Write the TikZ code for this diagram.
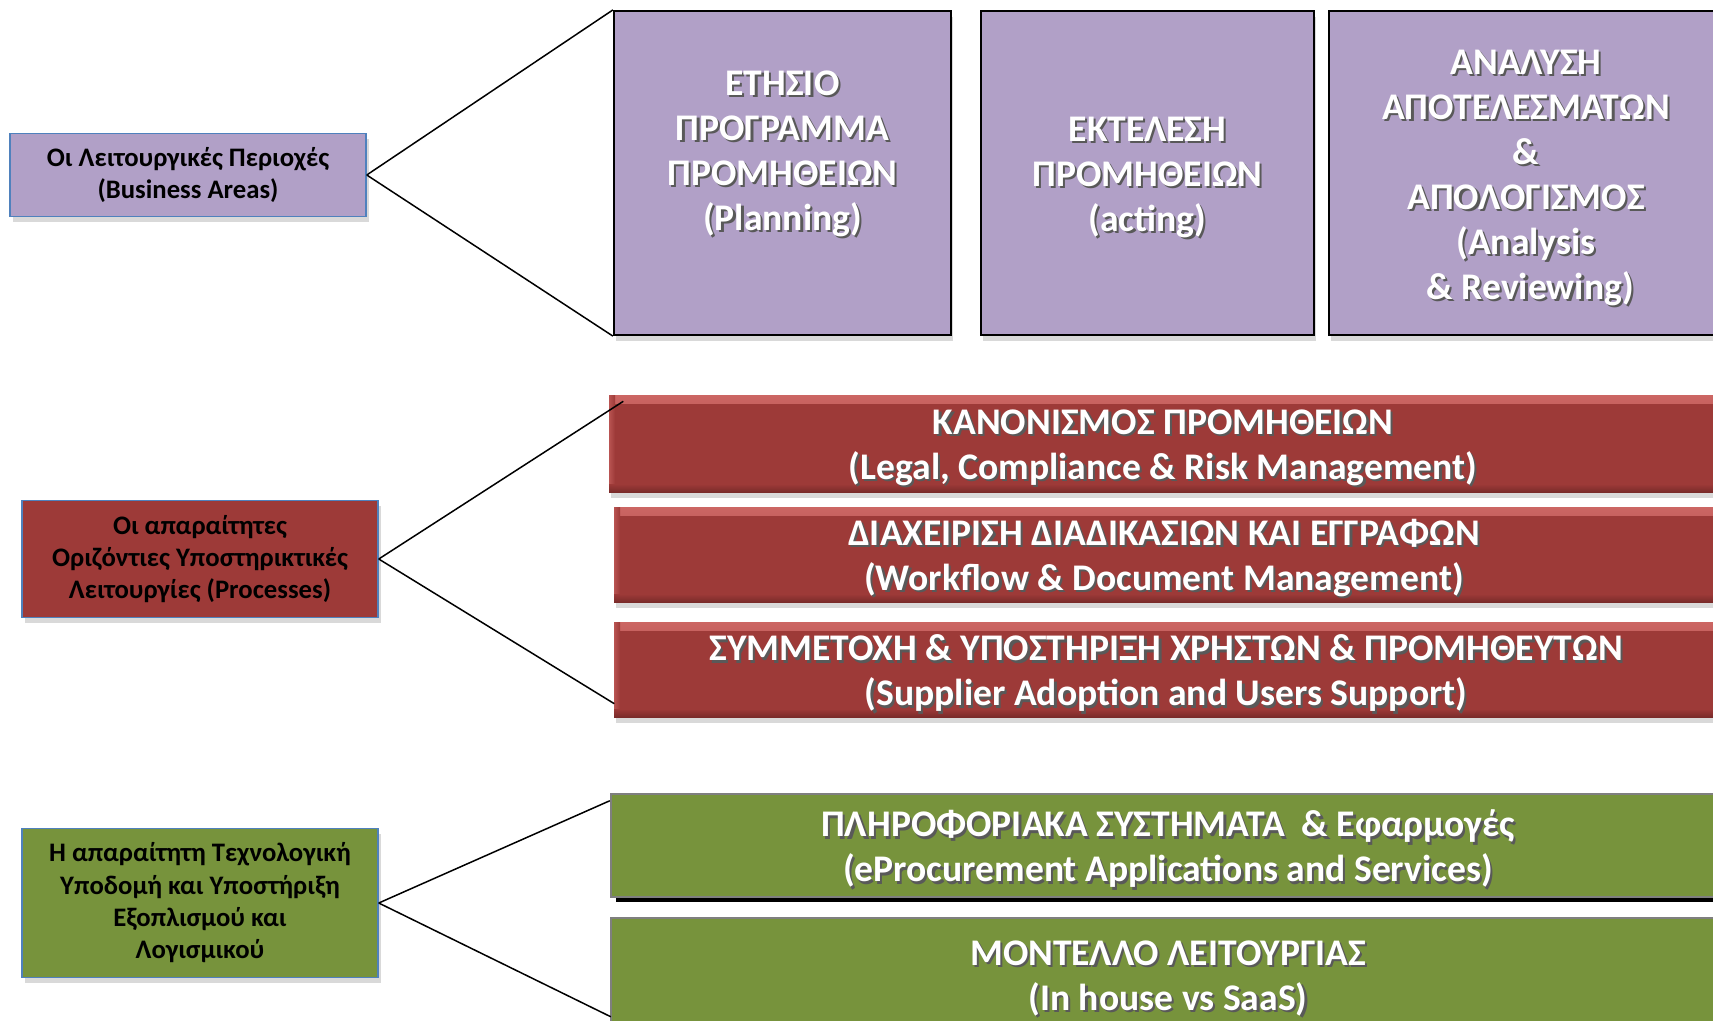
\documentclass[tikz,border=0pt]{standalone}
\usepackage{fontspec}
\setmainfont{Carlito}
\usetikzlibrary{shadows}
\definecolor{areaPurple}{HTML}{B1A0C7}
\definecolor{procRed}{HTML}{9D3A38}
\definecolor{procRedHi}{HTML}{D46E6B}
\definecolor{procRedLo}{HTML}{7A2B2A}
\definecolor{infraGreen}{HTML}{77933C}
\definecolor{infraGray}{HTML}{7F7F7F}
\definecolor{edgeBlue}{HTML}{4F81BD}

% white text with a dark shadow
\newcommand{\shtxt}[1]{\makebox[0pt][l]{\hspace{0.22mm}\raisebox{-0.22mm}{\textcolor{black!65}{#1}}}#1}
% extra room above the first line
\newcommand{\lift}{\rule{0pt}{3.6mm}}

\tikzset{
    leftbox/.style={draw=edgeBlue, line width=0.15mm, minimum width=35.6mm, align=center,
        text=black, font=\fontsize{7.6}{9.2}\selectfont\bfseries,
        drop shadow={shadow xshift=0.3mm, shadow yshift=-0.5mm, opacity=0.3}},
    bigtext/.style={align=center, text=white, inner ysep=0pt, font=\fontsize{10.7}{12.8}\selectfont\bfseries},
    areabox/.style={bigtext, fill=areaPurple, draw=black, line width=0.22mm, minimum height=32.4mm,
        drop shadow={shadow xshift=0.2mm, shadow yshift=-0.6mm, opacity=0.3}},
    procbox/.style={bigtext, fill=procRed, minimum width=110.8mm,
        drop shadow={shadow xshift=0.2mm, shadow yshift=-0.6mm, opacity=0.3},
        path picture={
            \shade[top color=procRedHi!85!procRed, bottom color=procRed] (path picture bounding box.north west)
                rectangle ([yshift=-0.8mm]path picture bounding box.north east);
            \shade[left color=procRedHi!50!procRed, right color=procRed] (path picture bounding box.north west)
                rectangle ([xshift=0.6mm]path picture bounding box.south west);
            \shade[top color=procRed, bottom color=procRedLo] ([yshift=0.8mm]path picture bounding box.south west)
                rectangle (path picture bounding box.south east);
        }},
    infrabox/.style={bigtext, fill=infraGreen, draw=infraGray, line width=0.25mm, minimum width=111.4mm},
    link/.style={black, line width=0.15mm}
}

\begin{document}
\begin{tikzpicture}[x=0.1mm, y=-0.1mm]

\useasboundingbox (0,0) rectangle (1713,1021);
\clip (0,0) rectangle (1713,1021);

% business areas
\node[leftbox, fill=areaPurple, minimum height=8.3mm] (ba) at (188,175)
    {Οι Λειτουργικές Περιοχές\\(Business Areas)};

\node[areabox, minimum width=33.7mm] (p1) at (782.5,173)
    {\shtxt{ΕΤΗΣΙΟ}\\\shtxt{ΠΡΟΓΡΑΜΜΑ}\\\shtxt{ΠΡΟΜΗΘΕΙΩΝ}\\\shtxt{(Planning)}\\\mbox{}};
\node[areabox, minimum width=33.3mm] (p2) at (1147.5,173)
    {\lift\shtxt{ΕΚΤΕΛΕΣΗ}\\\shtxt{ΠΡΟΜΗΘΕΙΩΝ}\\\shtxt{(acting)}};
\node[areabox, minimum width=39.4mm] (p3) at (1526,173)
    {\lift\shtxt{ΑΝΑΛΥΣΗ}\\\shtxt{ΑΠΟΤΕΛΕΣΜΑΤΩΝ}\\\shtxt{\&}\\\shtxt{ΑΠΟΛΟΓΙΣΜΟΣ}\\\shtxt{(Analysis}\\\ \shtxt{\& Reviewing)}};

\draw[link] (ba.east) -- (p1.north west);
\draw[link] (ba.east) -- (p1.south west);

% processes
\node[leftbox, fill=procRed, minimum height=11.7mm] (pr) at (200,559)
    {Οι απαραίτητες\\Οριζόντιες Υποστηρικτικές\\Λειτουργίες (Processes)};

\node[procbox, minimum height=9.7mm] (r1) at (1163,443.5)
    {\lift\shtxt{ΚΑΝΟΝΙΣΜΟΣ ΠΡΟΜΗΘΕΙΩΝ}\\\shtxt{(Legal, Compliance \& Risk Management)}};
\node[procbox, minimum height=9.5mm, minimum width=110mm] (r2) at (1164,554.5)
    {\lift\shtxt{ΔΙΑΧΕΙΡΙΣΗ ΔΙΑΔΙΚΑΣΙΩΝ ΚΑΙ ΕΓΓΡΑΦΩΝ}\\\shtxt{(Workflow \& Document Management)}};
\node[procbox, minimum height=9.5mm, minimum width=110.4mm] (r3) at (1166,669.5)
    {\lift\shtxt{ΣΥΜΜΕΤΟΧΗ \& ΥΠΟΣΤΗΡΙΞΗ ΧΡΗΣΤΩΝ \& ΠΡΟΜΗΘΕΥΤΩΝ}\\\shtxt{(Supplier Adoption and Users Support)}};

\draw[link] (pr.east) -- ([shift={(15,7)}]r1.north west);
\draw[link] (pr.east) -- ([shift={(1,-14)}]r3.south west);

% infrastructure
\node[leftbox, fill=infraGreen, minimum height=14.9mm] (ti) at (200,903)
    {Η απαραίτητη Τεχνολογική\\Υποδομή και Υποστήριξη\\Εξοπλισμού και\\Λογισμικού};

\node[infrabox, minimum height=10.3mm,
      drop shadow={shadow xshift=0.5mm, shadow yshift=-0.45mm, fill=black, opacity=1}] (g1) at (1168,845.5)
    {\lift\shtxt{ΠΛΗΡΟΦΟΡΙΑΚΑ ΣΥΣΤΗΜΑΤΑ \ \& Εφαρμογές}\\\shtxt{(eProcurement Applications and Services)}};
\node[infrabox, minimum height=11.2mm] (g2) at (1168,974)
    {\lift\shtxt{ΜΟΝΤΕΛΛΟ ΛΕΙΤΟΥΡΓΙΑΣ}\\\shtxt{(In house vs SaaS)}};

\draw[link] (ti.east) -- ([shift={(0,8)}]g1.north west);
\draw[link] (ti.east) -- ([shift={(1,100)}]g2.north west);

\end{tikzpicture}
\end{document}
